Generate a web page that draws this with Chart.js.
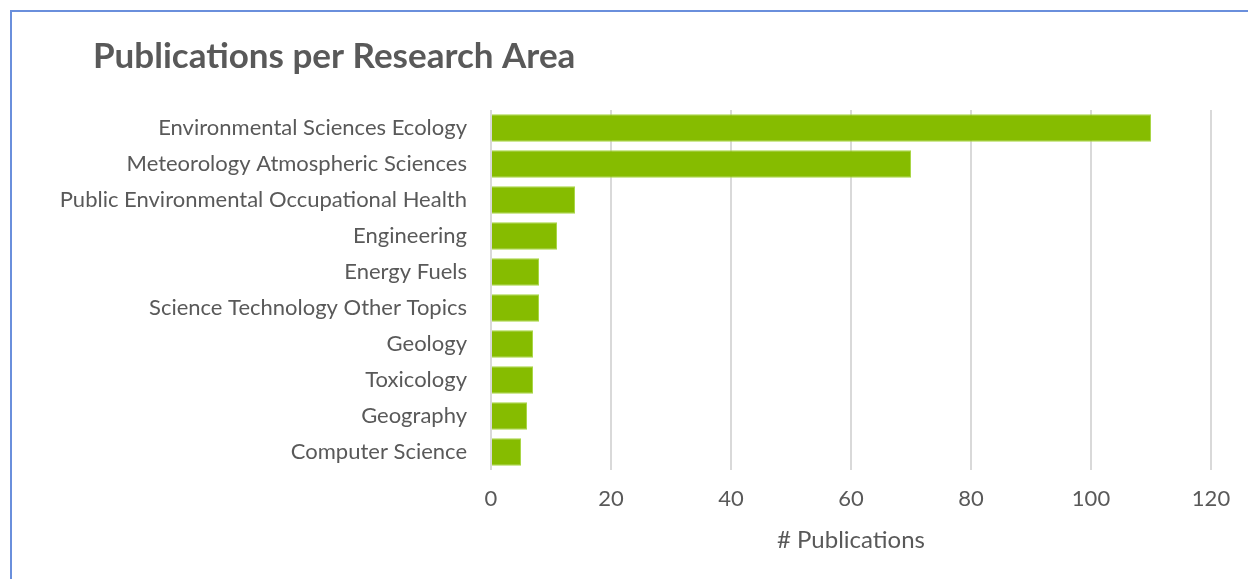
<!DOCTYPE html>
<html>
<head>
<meta charset="utf-8">
<script src="https://cdn.jsdelivr.net/npm/chart.js@4"></script>
<style>
  html, body { margin: 0; padding: 0; background: #fff; }
  #wrap { position: relative; width: 1248px; height: 579px; overflow: hidden; }
  #frame { position: absolute; left: 10px; top: 10px; right: -10px; bottom: -10px;
           border-top: 2px solid #6a8fdc; border-left: 2px solid #6a8fdc; }
  canvas { position: absolute; left: 0; top: 0; }
</style>
</head>
<body>
<div id="wrap">
  <canvas id="research_area_chart" width="1248" height="579"></canvas>
  <div id="frame"></div>
</div>
<script>
const chartTitle = 'Publications per Research Area';
const areaLabels = [
    'Environmental Sciences Ecology',
    'Meteorology Atmospheric Sciences',
    'Public Environmental Occupational Health',
    'Engineering',
    'Energy Fuels',
    'Science Technology Other Topics',
    'Geology',
    'Toxicology',
    'Geography',
    'Computer Science'
];
const publicationCounts = [110, 70, 14, 11, 8, 8, 7, 7, 6, 5];
const axisTitle = '# Publications';

const FONT = 'Lato, "Open Sans", sans-serif';
const GREY = '#595959';

// title sits left of the plot area, so draw it ourselves
const titlePlugin = {
    id: 'leftTitle',
    afterDraw(chart) {
        const c = chart.ctx;
        c.save();
        c.font = 'bold 35px ' + FONT;
        c.fillStyle = GREY;
        c.textBaseline = 'middle';
        c.textAlign = 'left';
        c.fillText(chartTitle, 93, 57);
        c.restore();
    }
};

const ctx = document.getElementById('research_area_chart').getContext('2d');

new Chart(ctx, {
    type: 'bar',
    data: {
        labels: areaLabels,
        datasets: [{
            label: 'Publications',
            data: publicationCounts,
            backgroundColor: '#86bc00',
            borderColor: '#a9d646',
            borderWidth: 1,
            barPercentage: 0.76,
            categoryPercentage: 1
        }]
    },
    options: {
        indexAxis: 'y',
        responsive: false,
        animation: false,
        layout: {
            padding: { top: 110, right: 37, bottom: 9, left: 0 }
        },
        plugins: {
            legend: { display: false },
            tooltip: { enabled: false }
        },
        scales: {
            x: {
                min: 0,
                max: 120,
                ticks: {
                    stepSize: 20,
                    padding: 16,
                    color: GREY,
                    font: { family: FONT, size: 22 }
                },
                grid: {
                    color: '#d9d9d9',
                    lineWidth: 2,
                    drawTicks: false
                },
                border: { display: false },
                title: {
                    display: true,
                    text: axisTitle,
                    color: GREY,
                    font: { family: FONT, size: 24 },
                    padding: { top: 4, bottom: 15 }
                },
                afterFit(scale) { scale.height = 100; }
            },
            y: {
                ticks: {
                    padding: 24,
                    color: GREY,
                    font: { family: FONT, size: 22 }
                },
                grid: { display: false, drawTicks: false },
                border: { display: false },
                afterFit(scale) { scale.width = 491; }
            }
        }
    },
    plugins: [titlePlugin]
});
</script>
</body>
</html>
